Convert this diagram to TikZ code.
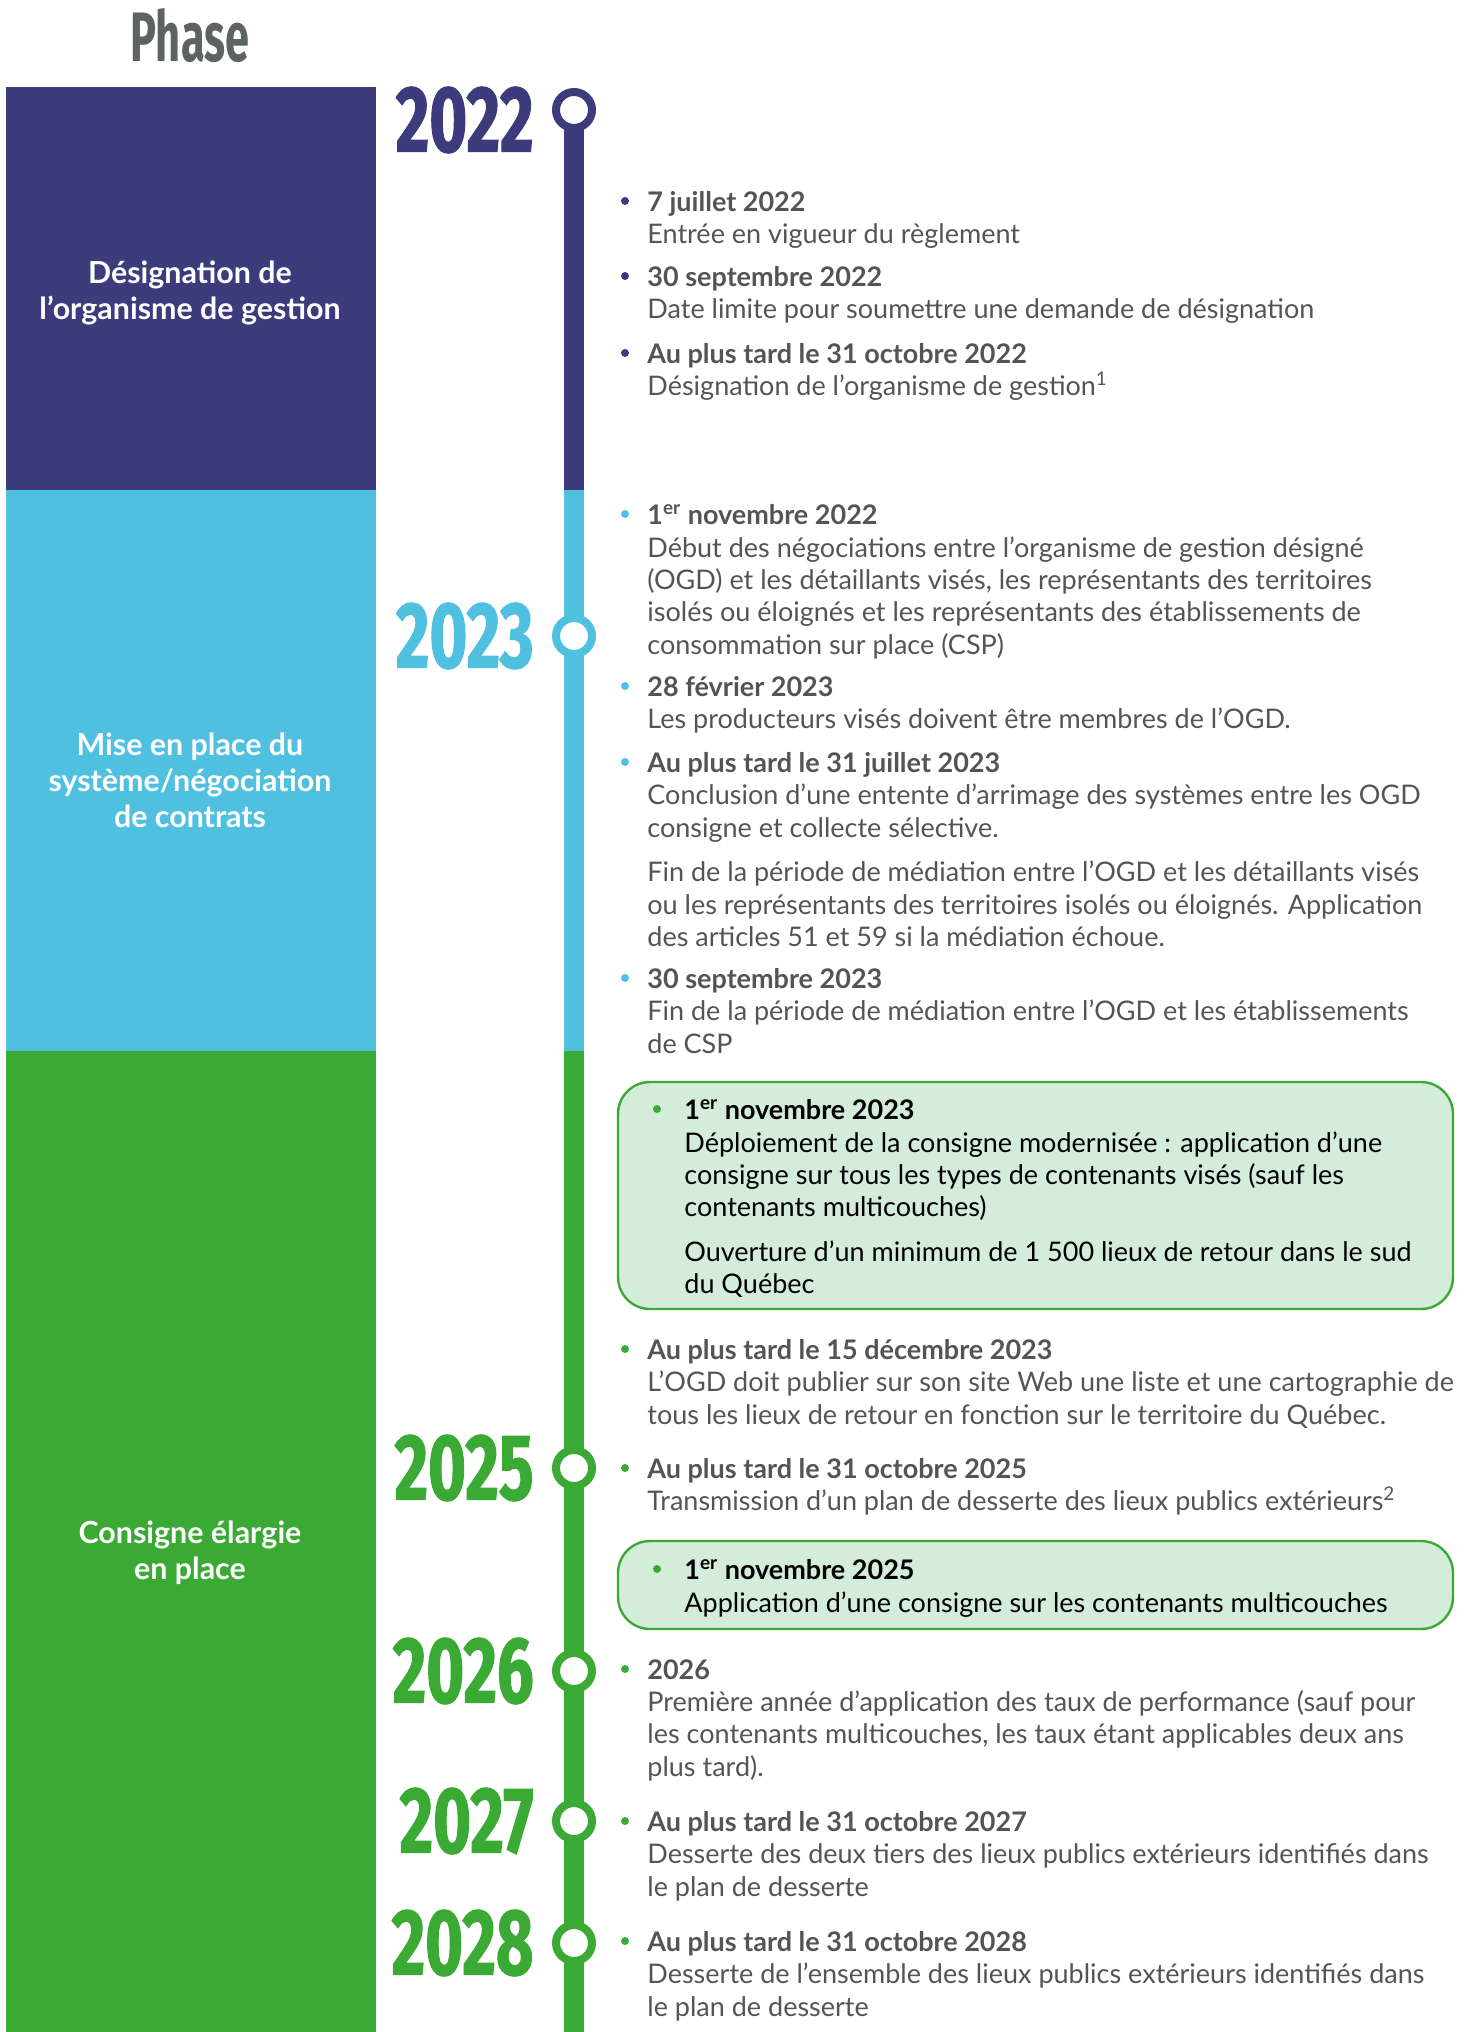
\documentclass[tikz,border=0pt]{standalone}
\usepackage{fontspec}
\setmainfont{Lato}
\newfontfamily\yearfont[FakeStretch=0.69, FakeBold=1.2]{Fira Sans}
\newfontfamily\titlefont[FakeStretch=0.62]{Fira Sans}
\definecolor{navy}{HTML}{3C3B7B}
\definecolor{sky}{HTML}{4FC0E0}
\definecolor{leaf}{HTML}{3AAA35}
\definecolor{mint}{HTML}{D4ECDA}
\definecolor{ink}{HTML}{545453}
\definecolor{slate}{HTML}{5D6361}

\tikzset{
  yearlab/.style={anchor=east, inner sep=0pt, font=\yearfont\bfseries\fontsize{47}{47}\selectfont},
  ring/.style={circle, draw, fill=white, line width=4pt, minimum size=18pt, inner sep=0pt},
  phaselab/.style={align=center, text=white, inner sep=0pt, font=\bfseries\fontsize{15.2}{18}\selectfont},
  evt/.style={anchor=north west, align=left, inner sep=0pt, text=ink, font=\fontsize{13.5}{16.2}\selectfont},
  keytext/.style={evt, text=black},
  keybox/.style={draw=leaf, line width=1.2pt, fill=mint, rounded corners=16pt},
}

\begin{document}
\begin{tikzpicture}[x=0.5pt,y=-0.5pt]
\useasboundingbox (0,0) rectangle (1471,2032);
\def\linex{574}

% phase column
\fill[navy] (6,87) rectangle (376,490);
\fill[sky] (6,490) rectangle (376,1051);
\fill[leaf] (6,1051) rectangle (376,2032);
\node[anchor=center, inner sep=0pt, text=slate, font=\titlefont\bfseries\fontsize{35}{35}\selectfont] (phase) at (190,36) {Phase};
\node[phaselab] (p1) at (190,293) {Désignation de\\l’organisme de gestion};
\node[phaselab] (p2) at (190,780) {Mise en place du\\système/négociation\\de contrats};
\node[phaselab] (p3) at (190,1553) {Consigne élargie\\en place};

% timeline
\draw[navy, line width=10pt] (\linex,110) -- (\linex,490);
\draw[sky, line width=10pt] (\linex,490) -- (\linex,1051);
\draw[leaf, line width=10pt] (\linex,1051) -- (\linex,2032);

\node[ring, draw=navy] (c22) at (\linex,110) {};
\node[ring, draw=sky] (c23) at (\linex,636) {};
\node[ring, draw=leaf] (c25) at (\linex,1468) {};
\node[ring, draw=leaf] (c26) at (\linex,1671) {};
\node[ring, draw=leaf] (c27) at (\linex,1821) {};
\node[ring, draw=leaf] (c28) at (\linex,1943) {};

\node[yearlab, text=navy] (y22) at (534,120) {2022};
\node[yearlab, text=sky] (y23) at (534,636) {2023};
\node[yearlab, text=leaf] (y25) at (534,1468) {2025};
\node[yearlab, text=leaf] (y26) at (534,1671) {2026};
\node[yearlab, text=leaf] (y27) at (534,1821) {2027};
\node[yearlab, text=leaf] (y28) at (534,1943) {2028};

% highlighted boxes
\draw[keybox] (618,1082) rectangle (1453,1309);
\draw[keybox] (618,1541) rectangle (1453,1629);

% bullets
\foreach \y in {201,276,353} \fill[navy] (625,\y) circle (2pt);
\foreach \y in {514,686,762,978} \fill[sky] (625,\y) circle (2pt);
\foreach \y in {1349,1468,1669,1821,1941} \fill[leaf] (625,\y) circle (2pt);
\foreach \y in {1109,1569} \fill[leaf] (657,\y) circle (2pt);

% events
\node[evt] (e1) at (647,191) {\textbf{7 juillet 2022}\\Entrée en vigueur du règlement};
\node[evt] (e2) at (647,266) {\textbf{30 septembre 2022}\\Date limite pour soumettre une demande de désignation};
\node[evt] (e3) at (647,343) {\textbf{Au plus tard le 31 octobre 2022}\\Désignation de l’organisme de gestion\textsuperscript{1}};
\node[evt] (e4) at (647,504) {\textbf{1\textsuperscript{er} novembre 2022}\\Début des négociations entre l’organisme de gestion désigné\\(OGD) et les détaillants visés, les représentants des territoires\\isolés ou éloignés et les représentants des établissements de\\consommation sur place (CSP)};
\node[evt] (e5) at (647,676) {\textbf{28 février 2023}\\Les producteurs visés doivent être membres de l’OGD.};
\node[evt] (e6) at (647,752) {\textbf{Au plus tard le 31 juillet 2023}\\Conclusion d’une entente d’arrimage des systèmes entre les OGD\\consigne et collecte sélective.\\[6pt]Fin de la période de médiation entre l’OGD et les détaillants visés\\ou les représentants des territoires isolés ou éloignés. Application\\des articles 51 et 59 si la médiation échoue.};
\node[evt] (e7) at (647,968) {\textbf{30 septembre 2023}\\Fin de la période de médiation entre l’OGD et les établissements\\de CSP};
\node[keytext] (k1) at (684,1099) {\textbf{1\textsuperscript{er} novembre 2023}\\Déploiement de la consigne modernisée : application d’une\\consigne sur tous les types de contenants visés (sauf les\\contenants multicouches)\\[6pt]Ouverture d’un minimum de 1 500 lieux de retour dans le sud\\du Québec};
\node[evt] (e8) at (647,1339) {\textbf{Au plus tard le 15 décembre 2023}\\L’OGD doit publier sur son site Web une liste et une cartographie de\\tous les lieux de retour en fonction sur le territoire du Québec.};
\node[evt] (e9) at (647,1458) {\textbf{Au plus tard le 31 octobre 2025}\\Transmission d’un plan de desserte des lieux publics extérieurs\textsuperscript{2}};
\node[keytext] (k2) at (684,1559) {\textbf{1\textsuperscript{er} novembre 2025}\\Application d’une consigne sur les contenants multicouches};
\node[evt] (e10) at (647,1659) {\textbf{2026}\\Première année d’application des taux de performance (sauf pour\\les contenants multicouches, les taux étant applicables deux ans\\plus tard).};
\node[evt] (e11) at (647,1811) {\textbf{Au plus tard le 31 octobre 2027}\\Desserte des deux tiers des lieux publics extérieurs identifiés dans\\le plan de desserte};
\node[evt] (e12) at (647,1931) {\textbf{Au plus tard le 31 octobre 2028}\\Desserte de l’ensemble des lieux publics extérieurs identifiés dans\\le plan de desserte};
\end{tikzpicture}
\end{document}
